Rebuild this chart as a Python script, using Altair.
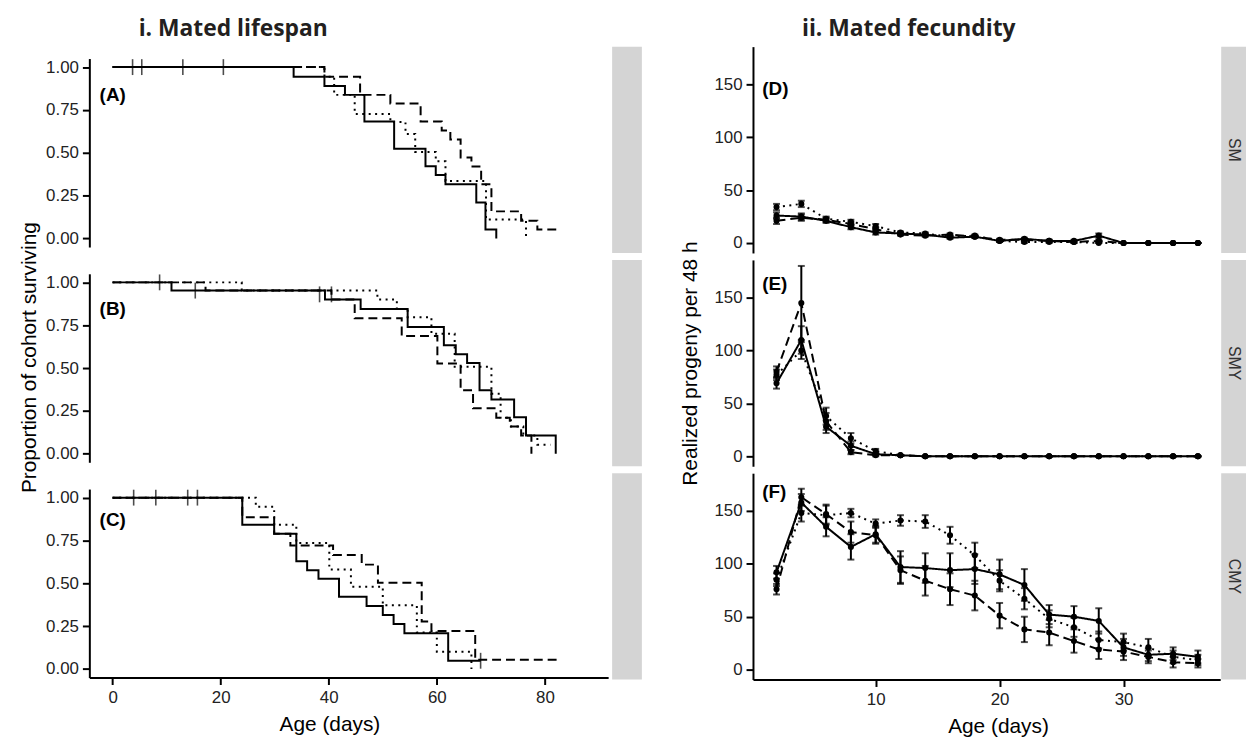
import altair as alt
import pandas as pd

# ---------------- shared style ----------------
LT_DOMAIN = ["solid", "dashed", "dotted"]
LT_RANGE = [[1, 0], [9, 5], [2, 4.5]]
FONT = "Liberation Sans"

# ---------------- i. Mated lifespan (Kaplan-Meier steps) ----------------
A_solid_t = [0, 33.5, 39.2, 43.0, 46.6, 52.1, 57.9, 59.8, 61.6, 67.3, 69.0, 71.0]
A_solid_s = [1.0, 0.944, 0.89, 0.838, 0.682, 0.524, 0.422, 0.37, 0.316, 0.21, 0.052, 0.0]
A_dashed_t = [0, 39.2, 45.8, 51.4, 57.0, 60.9, 62.5, 64.4, 66.4, 68.2, 70.1, 75.6, 78.6, 83.0]
A_dashed_s = [1.0, 0.944, 0.838, 0.788, 0.682, 0.63, 0.578, 0.472, 0.42, 0.316, 0.158, 0.104, 0.052, 0.052]
A_dotted_t = [0, 39.2, 41.0, 44.8, 51.4, 54.2, 56.0, 59.8, 61.6, 69.1, 76.5]
A_dotted_s = [1.0, 0.944, 0.838, 0.726, 0.68, 0.61, 0.505, 0.45, 0.335, 0.11, 0.0]
A_cens_t = [3.7, 5.4, 13.0, 20.5]
A_cens_s = [1.0, 1.0, 1.0, 1.0]

B_solid_t = [0, 10.9, 39.3, 45.9, 54.6, 61.3, 63.5, 65.6, 67.9, 70.1, 74.3, 76.5, 82.0]
B_solid_s = [1.0, 0.952, 0.9, 0.845, 0.739, 0.633, 0.58, 0.53, 0.371, 0.317, 0.213, 0.106, 0.0]
B_dashed_t = [0, 17.2, 40.5, 44.8, 53.5, 60.1, 64.4, 66.7, 71.0, 73.5, 75.6, 77.5]
B_dashed_s = [1.0, 0.952, 0.9, 0.791, 0.687, 0.526, 0.371, 0.265, 0.21, 0.159, 0.106, 0.0]
B_dotted_t = [0, 23.9, 49.0, 52.6, 54.6, 59.0, 63.3, 70.1, 71.8, 73.7, 76.0, 78.6, 81.0]
B_dotted_s = [1.0, 0.952, 0.9, 0.845, 0.797, 0.70, 0.507, 0.35, 0.21, 0.159, 0.106, 0.053, 0.053]
B_cens_t = [8.7, 15.3, 38.3, 40.5]
B_cens_s = [1.0, 0.952, 0.93, 0.93]

C_solid_t = [0, 24.0, 29.9, 34.0, 36.0, 38.1, 41.9, 47.0, 50.0, 52.0, 54.0, 62.1, 68.1]
C_solid_s = [1.0, 0.842, 0.789, 0.629, 0.576, 0.526, 0.422, 0.367, 0.315, 0.263, 0.209, 0.048, 0.048]
C_dashed_t = [0, 24.0, 29.9, 32.9, 40.8, 46.1, 49.1, 57.2, 59.0, 67.1, 83.0]
C_dashed_s = [1.0, 0.886, 0.789, 0.72, 0.665, 0.609, 0.503, 0.277, 0.222, 0.054, 0.054]
C_dotted_t = [0, 26.5, 29.9, 34.0, 40.1, 44.1, 50.0, 56.3, 60.0, 66.4]
C_dotted_s = [1.0, 0.947, 0.842, 0.735, 0.58, 0.48, 0.372, 0.213, 0.101, 0.0]
C_cens_t = [3.9, 8.0, 13.9, 15.7, 68.1]
C_cens_s = [1.0, 1.0, 1.0, 1.0, 0.048]

LEFT_LETTERS = ["(A)", "(B)", "(C)"]
LEFT_LETTER_Y = [0.836, 0.846, 0.87]

# ---------------- ii. Mated fecundity ----------------
days = [2, 4, 6, 8, 10, 12, 14, 16, 18, 20, 22, 24, 26, 28, 30, 32, 34, 36]

D_solid = [26, 25, 21, 15, 10, 9, 8, 5, 6, 2, 4, 2, 2, 7, 0, 0, 0, 0]
D_dashed = [21, 24, 22, 18, 13, 8, 7, 8, 6, 3, 3, 2, 1, 2, 0, 0, 0, 0]
D_dotted = [34, 37, 23, 20, 16, 10, 9, 6, 7, 2, 1, 1, 1, 0, 0, 0, 0, 0]
D_solid_se = [3, 3, 2, 2, 2, 1, 1, 1, 1, 1, 1, 1, 1, 2, 0, 0, 0, 0]
D_dashed_se = [3, 3, 2, 2, 2, 1, 1, 1, 1, 1, 1, 1, 1, 1, 0, 0, 0, 0]
D_dotted_se = [3, 3, 2, 2, 2, 1, 1, 1, 1, 1, 1, 1, 1, 0, 0, 0, 0, 0]

E_solid = [69, 110, 28, 10, 2, 1, 0, 0, 0, 0, 0, 0, 0, 0, 0, 0, 0, 0]
E_dashed = [80, 145, 33, 4, 1, 1, 0, 0, 0, 0, 0, 0, 0, 0, 0, 0, 0, 0]
E_dotted = [77, 100, 38, 17, 5, 1, 0, 0, 0, 0, 0, 0, 0, 0, 0, 0, 0, 0]
E_solid_se = [5, 13, 6, 4, 1, 0, 0, 0, 0, 0, 0, 0, 0, 0, 0, 0, 0, 0]
E_dashed_se = [5, 35, 8, 2, 1, 0, 0, 0, 0, 0, 0, 0, 0, 0, 0, 0, 0, 0]
E_dotted_se = [5, 8, 8, 5, 2, 0, 0, 0, 0, 0, 0, 0, 0, 0, 0, 0, 0, 0]

F_solid = [92, 158, 135, 116, 128, 97, 96, 94, 95, 90, 80, 52, 50, 46, 21, 14, 15, 12]
F_dashed = [76, 163, 147, 130, 127, 94, 84, 76, 70, 51, 38, 35, 27, 19, 17, 12, 7, 6]
F_dotted = [85, 148, 146, 148, 138, 141, 140, 127, 108, 84, 67, 48, 40, 28, 26, 21, 12, 9]
F_solid_se = [6, 8, 9, 12, 8, 15, 14, 16, 14, 14, 15, 9, 10, 12, 8, 6, 6, 6]
F_dashed_se = [5, 8, 9, 10, 8, 13, 14, 15, 14, 12, 12, 12, 11, 9, 8, 6, 5, 4]
F_dotted_se = [6, 8, 9, 4, 4, 5, 6, 8, 12, 10, 10, 8, 9, 8, 8, 8, 6, 5]

RIGHT_LETTERS = ["(D)", "(E)", "(F)"]
RIGHT_LETTER_Y = [146, 163, 168]
STRIPS = ["SM", "SMY", "CMY"]

TITLE_L = "i. Mated lifespan"
TITLE_R = "ii. Mated fecundity"

# ---------------- layout numbers ----------------
WL, HL, GAPL = 523, 190, 27
WR, HR, GAPR = 471, 208, 7
STRIP_GRAY = "#d4d4d4"
LABEL_COLOR = "#222222"

xsL = alt.Scale(domain=[-4.3, 91.7], nice=False, zero=False)
ysL = alt.Scale(domain=[-0.05, 1.05], nice=False, zero=False)
xsR = alt.Scale(domain=[0.1, 37.8], nice=False, zero=False)
ysR = alt.Scale(domain=[-9.4, 185.7], nice=False, zero=False)
dash = alt.StrokeDash("lt:N", scale=alt.Scale(domain=LT_DOMAIN, range=LT_RANGE), legend=None)


def km_df(series):
    rows = []
    for lt, ts, ss in series:
        for i, (t, s) in enumerate(zip(ts, ss)):
            rows.append({"lt": lt, "day": t, "surv": s, "o": i})
    return pd.DataFrame(rows)


def left_panel(series, cens_t, cens_s, letter, letter_y, bottom, ytitle):
    if bottom:
        xax = alt.Axis(values=[0, 20, 40, 60, 80], title="Age (days)", titleX=242,
                       labelPadding=5, titlePadding=8)
    else:
        xax = None
    if ytitle:
        yax = alt.Axis(values=[0, 0.25, 0.5, 0.75, 1.0], format=".2f",
                       title="Proportion of cohort surviving", titleX=-60, titleY=84,
                       titleAngle=270, titleAlign="center", titleBaseline="middle")
    else:
        yax = alt.Axis(values=[0, 0.25, 0.5, 0.75, 1.0], format=".2f", title=None)
    X = alt.X("day:Q", scale=xsL, axis=xax)
    Y = alt.Y("surv:Q", scale=ysL, axis=yax)
    lines = alt.Chart(km_df(series)).mark_line(
        interpolate="step-after", color="black", strokeWidth=2
    ).encode(x=X, y=Y, strokeDash=dash, order="o:Q")
    cens = alt.Chart(pd.DataFrame({"day": cens_t, "surv": cens_s})).mark_tick(
        orient="vertical", color="black", size=16, thickness=1.6
    ).encode(x=X, y=Y)
    lab = alt.Chart(pd.DataFrame({"day": [-2.4], "surv": [letter_y], "lab": [letter]})).mark_text(
        align="left", baseline="middle", font=FONT, fontSize=19, fontWeight="bold", color="black"
    ).encode(x=X, y=Y, text="lab:N")
    return alt.layer(lines, cens, lab).properties(width=WL, height=HL)


def right_df(series):
    rows = []
    for lt, vals, ses in series:
        for d, v, s in zip(days, vals, ses):
            rows.append({"lt": lt, "day": d, "val": v, "lo": v - s, "hi": v + s})
    return pd.DataFrame(rows)


def right_panel(series, letter, letter_y, strip, bottom, ytitle):
    if bottom:
        xax = alt.Axis(values=[10, 20, 30], title="Age (days)", titleX=247,
                       labelPadding=5, titlePadding=8)
    else:
        xax = None
    if ytitle:
        yax = alt.Axis(values=[0, 50, 100, 150], title="Realized progeny per 48 h",
                       titleX=-63, titleY=HR / 2, titleAngle=270, titleAlign="center",
                       titleBaseline="middle")
    else:
        yax = alt.Axis(values=[0, 50, 100, 150], title=None)
    X = alt.X("day:Q", scale=xsR, axis=xax)
    Y = alt.Y("val:Q", scale=ysR, axis=yax)
    df = right_df(series)
    caps = pd.concat([
        df[["lt", "day"]].assign(val=df["lo"]),
        df[["lt", "day"]].assign(val=df["hi"]),
    ])
    band = alt.Chart(pd.DataFrame({"k": [0]})).mark_rect(color=STRIP_GRAY).encode(
        x=alt.value(-142), x2=alt.value(-112), y=alt.value(0), y2=alt.value(HR))
    sbg = alt.Chart(pd.DataFrame({"k": [0]})).mark_rect(color=STRIP_GRAY).encode(
        x=alt.value(WR + 1), x2=alt.value(WR + 26), y=alt.value(0), y2=alt.value(HR))
    stext = alt.Chart(pd.DataFrame({"s": [strip]})).mark_text(
        angle=90, align="center", baseline="middle", font=FONT, fontSize=16, color="#333333"
    ).encode(x=alt.value(WR + 13.5), y=alt.value(HR / 2), text="s:N")
    rules = alt.Chart(df).mark_rule(color="black", strokeWidth=2).encode(
        x=X, y=alt.Y("lo:Q", scale=ysR, axis=yax), y2="hi:Q")
    capm = alt.Chart(caps).mark_tick(orient="horizontal", color="black", size=7,
                                     thickness=2).encode(x=X, y=Y)
    lines = alt.Chart(df).mark_line(color="black", strokeWidth=2).encode(
        x=X, y=Y, strokeDash=dash)
    pts = alt.Chart(df).mark_circle(color="black", size=38, opacity=1).encode(x=X, y=Y)
    lab = alt.Chart(pd.DataFrame({"day": [0.85], "val": [letter_y], "lab": [letter]})).mark_text(
        align="left", baseline="middle", font=FONT, fontSize=19, fontWeight="bold", color="black"
    ).encode(x=X, y=Y, text="lab:N")
    return alt.layer(band, sbg, stext, rules, capm, lines, pts, lab).properties(width=WR, height=HR)


def title_chart(text, xc, w, h):
    return alt.Chart(pd.DataFrame({"t": [text]})).mark_text(
        font="Open Sans", fontSize=23, fontWeight="bold", align="center", baseline="alphabetic",
        color="#231f20"
    ).encode(text="t:N", x=alt.value(xc), y=alt.value(20.6)).properties(width=w, height=h)


A = left_panel([("solid", A_solid_t, A_solid_s), ("dashed", A_dashed_t, A_dashed_s),
                ("dotted", A_dotted_t, A_dotted_s)], A_cens_t, A_cens_s,
               LEFT_LETTERS[0], LEFT_LETTER_Y[0], False, False)
B = left_panel([("solid", B_solid_t, B_solid_s), ("dashed", B_dashed_t, B_dashed_s),
                ("dotted", B_dotted_t, B_dotted_s)], B_cens_t, B_cens_s,
               LEFT_LETTERS[1], LEFT_LETTER_Y[1], False, True)
C = left_panel([("solid", C_solid_t, C_solid_s), ("dashed", C_dashed_t, C_dashed_s),
                ("dotted", C_dotted_t, C_dotted_s)], C_cens_t, C_cens_s,
               LEFT_LETTERS[2], LEFT_LETTER_Y[2], True, False)

D = right_panel([("solid", D_solid, D_solid_se), ("dashed", D_dashed, D_dashed_se),
                 ("dotted", D_dotted, D_dotted_se)], RIGHT_LETTERS[0], RIGHT_LETTER_Y[0],
                STRIPS[0], False, False)
E = right_panel([("solid", E_solid, E_solid_se), ("dashed", E_dashed, E_dashed_se),
                 ("dotted", E_dotted, E_dotted_se)], RIGHT_LETTERS[1], RIGHT_LETTER_Y[1],
                STRIPS[1], False, True)
F = right_panel([("solid", F_solid, F_solid_se), ("dashed", F_dashed, F_dashed_se),
                 ("dotted", F_dotted, F_dotted_se)], RIGHT_LETTERS[2], RIGHT_LETTER_Y[2],
                STRIPS[2], True, False)

left_col = alt.vconcat(title_chart(TITLE_L, 145, WL, 15.6), A, B, C, spacing=GAPL, bounds="flush")
right_col = alt.vconcat(title_chart(TITLE_R, 157, WR, 24), D, E, F, spacing=GAPR, bounds="flush")

chart = alt.hconcat(left_col, right_col, spacing=4, bounds="full",
                    padding={"left": 10, "top": 5, "right": 0, "bottom": 0}).configure_axis(
    labelFont=FONT, labelFontSize=17, labelColor=LABEL_COLOR,
    titleFont=FONT, titleFontSize=21, titleFontWeight="normal", titleColor="#000000",
    domainColor="#000000", domainWidth=2, tickColor="#000000", tickWidth=2, tickSize=7,
    labelPadding=4, grid=False
).configure_view(strokeWidth=0)

chart.save("out.html", embed_options={"renderer": "svg", "actions": False})
